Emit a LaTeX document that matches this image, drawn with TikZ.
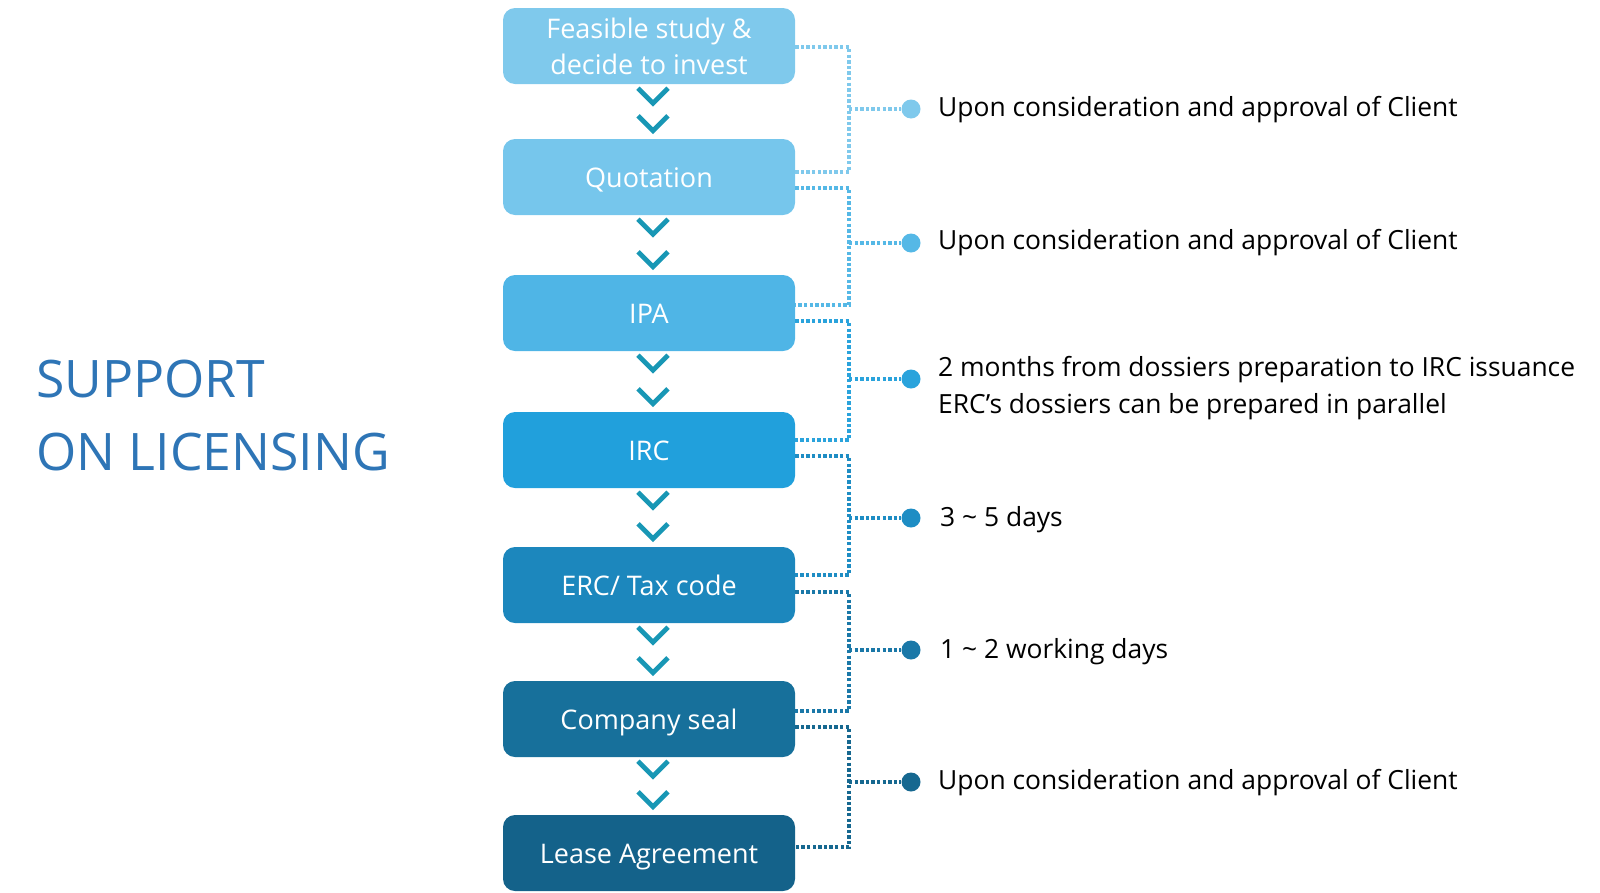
\documentclass[tikz,border=0pt]{standalone}
\usepackage{fontspec}
\setmainfont{Open Sans}
\usetikzlibrary{calc}
\definecolor{c1}{HTML}{7FC9EC}
\definecolor{c2}{HTML}{76C6EC}
\definecolor{c3}{HTML}{4FB5E6}
\definecolor{c4}{HTML}{21A0DC}
\definecolor{c5}{HTML}{1C87BD}
\definecolor{c6}{HTML}{17709B}
\definecolor{c7}{HTML}{14628A}
\definecolor{k1}{HTML}{7FC9EC}
\definecolor{k2}{HTML}{55B8E6}
\definecolor{k3}{HTML}{2AA3DC}
\definecolor{k4}{HTML}{1E8DC4}
\definecolor{k5}{HTML}{1A78A8}
\definecolor{k6}{HTML}{166890}
\definecolor{chevc}{HTML}{1897B5}
\definecolor{titlec}{HTML}{2E75B6}
\begin{document}
\begin{tikzpicture}[x=1pt,y=-1pt,
  box/.style={rounded corners=12pt, minimum width=292pt, minimum height=76pt, text=white,
    font=\fontsize{27}{36}\selectfont, align=center, inner sep=0pt},
  onebox/.style={box, text height=21pt, text depth=0pt},
  chev/.style={line width=4.8pt, draw=chevc, line cap=butt, line join=miter},
  dotline/.style={line width=3.6pt, dash pattern=on 3.4pt off 2.2pt},
  dot/.style={circle, minimum size=19pt, inner sep=0pt},
  note/.style={anchor=west, font=\fontsize{26.4}{37}\selectfont, text=black, align=left, inner sep=0pt}]
\useasboundingbox (0,0) rectangle (1600,892);

% title
\node[anchor=west, align=left, text=titlec, inner sep=0pt, font=\fontsize{51.7}{73}\selectfont] (title) at (36,415) {SUPPORT\\ON LICENSING};

% boxes
\node[box, fill=c1] (b1) at (649,46) {Feasible study \&\\decide to invest};
\node[onebox, fill=c2] (b2) at (649,177) {Quotation};
\node[onebox, fill=c3] (b3) at (649,313) {IPA};
\node[onebox, fill=c4] (b4) at (649,450) {IRC};
\node[onebox, fill=c5] (b5) at (649,585) {ERC/ Tax code};
\node[onebox, fill=c6] (b6) at (649,719) {Company seal};
\node[onebox, fill=c7] (b7) at (649,853) {Lease Agreement};

% chevrons
\foreach \a/\b in {b1/b2,b2/b3,b3/b4,b4/b5,b5/b6,b6/b7}{
  \draw[chev] ($(\a.south)+(-11,4)$) -- ($(\a.south)+(4,19)$) -- ($(\a.south)+(19,4)$);
  \draw[chev] ($(\b.north)+(-11,-23)$) -- ($(\b.north)+(4,-8)$) -- ($(\b.north)+(19,-23)$);
}

% dots
\node[dot, fill=k1] (d1) at (911,109) {};
\node[dot, fill=k2] (d2) at (911,243) {};
\node[dot, fill=k3] (d3) at (911,379) {};
\node[dot, fill=k4] (d4) at (911,518) {};
\node[dot, fill=k5] (d5) at (911,650) {};
\node[dot, fill=k6] (d6) at (911,782) {};

\coordinate (v) at (849,0);

% brackets
\draw[dotline, draw=k1] ($(b1.east)+(0,1)$) -| ($(b2.east)+(54,-5)$) -- ($(b2.east)+(0,-5)$);
\draw[dotline, draw=k1] (d1 -| v) -- (d1.west);
\draw[dotline, draw=k2] ($(b2.east)+(0,11)$) -| ($(b3.east)+(54,-8)$) -- ($(b3.east)+(0,-8)$);
\draw[dotline, draw=k2] (d2 -| v) -- (d2.west);
\draw[dotline, draw=k3] ($(b3.east)+(0,8)$) -| ($(b4.east)+(54,-10)$) -- ($(b4.east)+(0,-10)$);
\draw[dotline, draw=k3] (d3 -| v) -- (d3.west);
\draw[dotline, draw=k4] ($(b4.east)+(0,6)$) -| ($(b5.east)+(54,-10)$) -- ($(b5.east)+(0,-10)$);
\draw[dotline, draw=k4] (d4 -| v) -- (d4.west);
\draw[dotline, draw=k5] ($(b5.east)+(0,7)$) -| ($(b6.east)+(54,-8)$) -- ($(b6.east)+(0,-8)$);
\draw[dotline, draw=k5] (d5 -| v) -- (d5.west);
\draw[dotline, draw=k6] ($(b6.east)+(0,8)$) -| ($(b7.east)+(54,-6)$) -- ($(b7.east)+(0,-6)$);
\draw[dotline, draw=k6] (d6 -| v) -- (d6.west);

% notes
\node[note] (n1) at (938,110) {Upon consideration and approval of Client};
\node[note] (n2) at (938,243) {Upon consideration and approval of Client};
\node[note] (n3) at (938,388) {2 months from dossiers preparation to IRC issuance\\ERC’s dossiers can be prepared in parallel};
\node[note] (n4) at (940,520) {3 \char`~{} 5 days};
\node[note] (n5) at (940,652) {1 \char`~{} 2 working days};
\node[note] (n6) at (938,783) {Upon consideration and approval of Client};
\end{tikzpicture}
\end{document}
